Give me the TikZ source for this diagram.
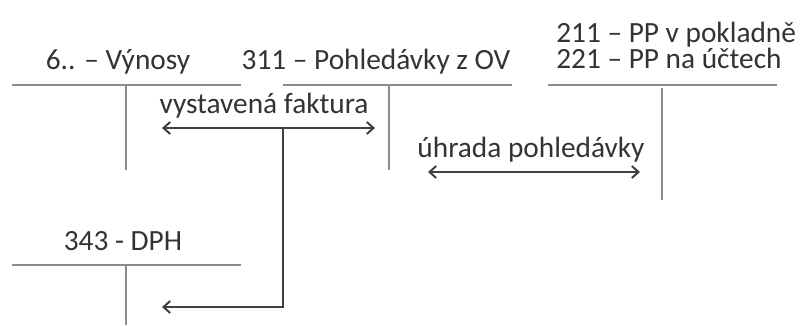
\documentclass[tikz,border=0pt]{standalone}
\usepackage{fontspec}
\setmainfont{Carlito}
\usetikzlibrary{arrows.meta, positioning, calc}

\begin{document}
\begin{tikzpicture}[x=0.75pt, y=-0.75pt, taccount/.style={draw=black!45,
      line width=1.1pt}, title/.style={font=\fontsize{22pt}{19pt}\selectfont,
      text=black!80, inner sep=0pt, anchor=base},
      entry/.style={line width=1.5pt, black!75, {Straight Barb[length=5pt,
      width=9pt]}-{Straight Barb[length=5pt, width=9pt]}},
      book/.style={line width=1.5pt, black!75, -{Straight Barb[length=5pt,
      width=9pt]}} ]
    \useasboundingbox (0,0) rectangle (805,325);

    % Account titles
    \node[title] (vynosy) at (118,69) {6.. – Výnosy}; \node[title] (pohl) at
    (376,69) {311 – Pohledávky z OV}; \node[title, anchor=base west,
    align=left] (penize) at (556,68) {211 – PP v pokladně\\221 – PP na
    účtech}; \node[title] (dph) at (123,250) {343 - DPH};

    % T-accounts
    \draw[taccount] (12,85) -- (241,85) (126,85) -- (126,170);
    \draw[taccount] (283,85) -- (512,85) (389,85) -- (389,170);
    \draw[taccount] (548,85) -- (777,85) (662,88) -- (662,200);
    \draw[taccount] (12,265) -- (241,265) (126,265) -- (126,325);

    % Entry points of the arrows
    \coordinate (fak-l) at (162,128); \coordinate (fak-r) at (375,128);
    \coordinate (fak-m) at (283,128); \coordinate (fak-d) at (283,307);
    \coordinate (dph-in) at (162,307); \coordinate (uhr-l) at (428,172);
    \coordinate (uhr-r) at (640,172);

    % Vystavena faktura
    \node[title] (fak) at (264,113) {vystavená faktura};
    \draw[entry] (fak-l) -- (fak-r);
    \draw[book] (fak-m) -- (fak-d) -- (dph-in);

    % Uhrada pohledavky
    \node[title] (uhr) at (531,157) {úhrada pohledávky};
    \draw[entry] (uhr-l) -- (uhr-r);

\end{tikzpicture}
\end{document}
